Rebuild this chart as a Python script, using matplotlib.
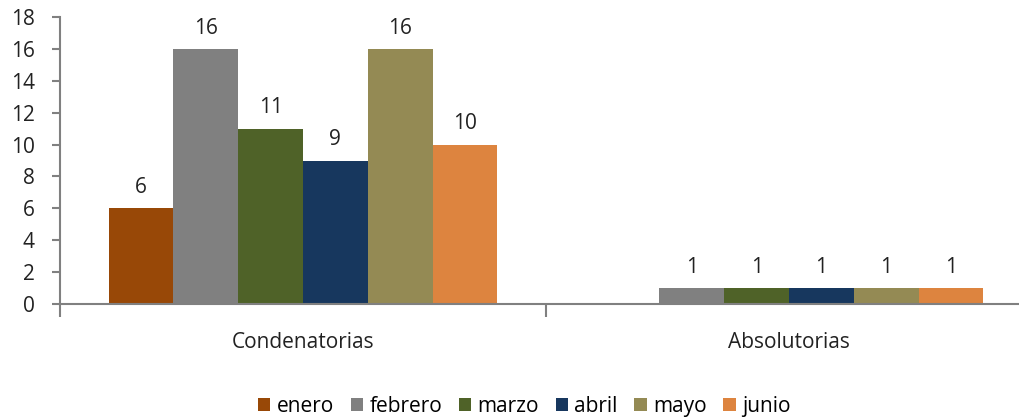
import matplotlib
matplotlib.use("Agg")
import matplotlib.pyplot as plt
import numpy as np

categories = ["Condenatorias", "Absolutorias"]
series = ["enero", "febrero", "marzo", "abril", "mayo", "junio"]
values = {
    "enero": [6, 0],
    "febrero": [16, 1],
    "marzo": [11, 1],
    "abril": [9, 1],
    "mayo": [16, 1],
    "junio": [10, 1],
}
colors = ["#984807", "#808080", "#4F6228", "#17375E", "#948A54", "#DD843F"]

plt.rcParams['font.family'] = ['Open Sans', 'DejaVu Sans']
fig = plt.figure(figsize=(10.2, 4.17), dpi=100)
ax = fig.add_axes([60/1020, (417-304)/417, 972/1020, (304-17)/417])

x = np.arange(len(categories))
n = len(series)
w = 0.8 / n
FS = 15
for i, s in enumerate(series):
    pos = x - 0.4 + w*(i+0.5)
    ax.bar(pos, values[s], width=w, color=colors[i], label=s, zorder=2)
    for p, v in zip(pos, values[s]):
        if v > 0:
            ax.text(p, v + 0.65, str(v), ha='center', va='bottom', fontsize=FS, color='#222222')

ax.set_xlim(-0.5, 1.5)
ax.set_ylim(0, 18)
ax.set_yticks(range(0, 19, 2))
ax.tick_params(axis='y', labelsize=FS, colors='#808080', labelcolor='#222222', length=6, width=1.5, pad=12)
ax.set_xticks(x)
ax.set_xticklabels(categories)
ax.tick_params(axis='x', which='major', length=0, labelsize=FS, labelcolor='#222222', pad=20)
ax.set_xticks([-0.5, 0.5], minor=True)
ax.tick_params(axis='x', which='minor', length=9, width=1.5, colors='#808080')
for sp in ['top', 'right']:
    ax.spines[sp].set_visible(False)
for sp in ['left', 'bottom']:
    ax.spines[sp].set_color('#808080')
    ax.spines[sp].set_linewidth(1.5)

fig.legend(loc='lower center', bbox_to_anchor=(0.514, -0.045), ncol=6, frameon=False,
           fontsize=FS, handlelength=0.6, handleheight=0.6, handletextpad=0.3, columnspacing=0.8)

fig.savefig("out.png", dpi=100)
